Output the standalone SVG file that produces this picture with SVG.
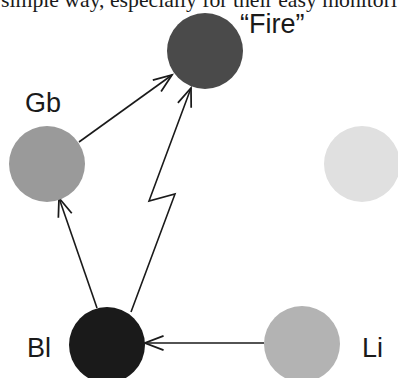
<svg xmlns="http://www.w3.org/2000/svg" width="398" height="378" viewBox="0 0 398 378">
<style>
.lbl{font-family:"Liberation Sans",Arial,sans-serif;font-size:27px;fill:#1a1a1a}
.cap{font-family:"Liberation Serif","Times New Roman",serif;font-size:22px;fill:#1a1a1a}
.edge{fill:none;stroke:#1a1a1a;stroke-width:1.6;stroke-linejoin:miter}
</style>
<defs>
<marker id="arr" markerUnits="userSpaceOnUse" markerWidth="24" markerHeight="24" viewBox="-20 -10 22 20" refX="0" refY="0" orient="auto">
<path d="M-17,-6.5 L0,0 L-17,6.5" fill="none" stroke="#1a1a1a" stroke-width="1.6"/>
</marker>
</defs>
<rect width="398" height="378" fill="#ffffff"/>
<text class="cap" x="1" y="7" textLength="396" lengthAdjust="spacingAndGlyphs">simple way, especially for their easy monitori</text>
<g id="connectors">
<path class="edge" d="M79,142 L172,75" marker-end="url(#arr)"/>
<path class="edge" d="M97,308 L59,198" marker-end="url(#arr)"/>
<path class="edge" d="M131,312 L175,194 L149,201 L191,88" marker-end="url(#arr)"/>
<path class="edge" d="M264,343 L145,343" marker-end="url(#arr)"/>
</g>
<g id="fire"><circle cx="205" cy="51" r="38" fill="#4a4a4a"/><text class="lbl" x="240" y="33">“Fire”</text></g>
<g id="gb"><circle cx="47" cy="164" r="38" fill="#9a9a9a"/><text class="lbl" x="25" y="112">Gb</text></g>
<g id="unlabeled"><circle cx="362" cy="164" r="38" fill="#e0e0e0"/></g>
<g id="bl"><circle cx="107" cy="345" r="38" fill="#1a1a1a"/><text class="lbl" x="27" y="357">Bl</text></g>
<g id="li"><circle cx="302" cy="344" r="38" fill="#b3b3b3"/><text class="lbl" x="362" y="357">Li</text></g>
</svg>
